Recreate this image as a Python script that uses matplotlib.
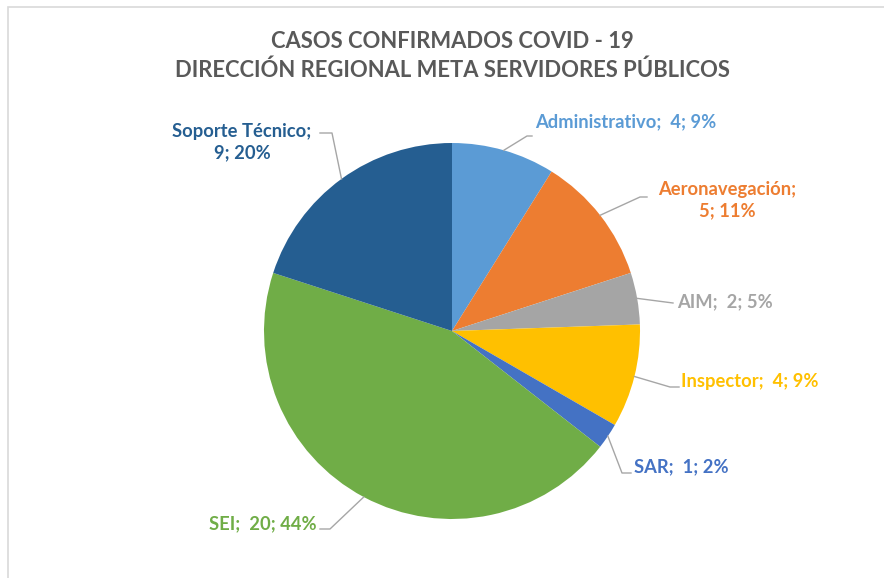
import numpy as np
import matplotlib.pyplot as plt
from matplotlib.lines import Line2D
from matplotlib.patches import Rectangle

plt.rcParams["font.family"] = ["Lato", "DejaVu Sans"]

categories = ["Administrativo", "Aeronavegación", "AIM", "Inspector", "SAR", "SEI", "Soporte Técnico"]
values = [4, 5, 2, 4, 1, 20, 9]
colors = ["#5B9BD5", "#ED7D31", "#A5A5A5", "#FFC000", "#4472C4", "#70AD47", "#255E91"]
title = "CASOS CONFIRMADOS COVID - 19\nDIRECCIÓN REGIONAL META SERVIDORES PÚBLICOS"

W, H = 884, 578
cx, cy, R = 452, 331, 188  # pie centre / radius in pixels

fig = plt.figure(figsize=(W / 100, H / 100), dpi=100)
fig.patch.set_facecolor("white")
# light frame (only top and left edges visible)
fig.add_artist(Rectangle((8 / W, -0.1), 1.2, 1.1 - 7 / H, transform=fig.transFigure,
                         fill=False, edgecolor="#D9D9D9", lw=1.2))

ax = fig.add_axes([(cx - R) / W, (H - cy - R) / H, 2 * R / W, 2 * R / H])
ax.pie(values, colors=colors, startangle=90, counterclock=False, radius=1,
       wedgeprops=dict(linewidth=0))
ax.set_xlim(-1, 1)
ax.set_ylim(-1, 1)
ax.axis("off")

total = sum(values)
# percentages rounded so they add up to 100 (largest remainder, like Excel)
raw = np.array(values) / total * 100
pcts = np.floor(raw).astype(int)
order = np.argsort(-(raw - pcts), kind="stable")
for i in order[:100 - pcts.sum()]:
    pcts[i] += 1


def px(x, y):
    return (x - cx) / R, (cy - y) / R


# label layout in pixels: (elbow points, text position, ha, multi-line)
layout = [
    ([(527, 136), (532, 136)], (535, 122), "left", False),
    ([(640, 197), (647, 197)], (727, 200), "center", True),
    ([(673, 303)], (677, 302), "left", False),
    ([(670, 387), (679, 387)], (681, 381), "left", False),
    ([(622, 473), (631, 473)], (634, 467), "left", False),
    ([(330, 529), (320, 529)], (317, 524), "right", False),
    ([(332, 133), (320, 133)], (242, 142), "center", True),
]

cum = 0
for name, v, p, c, (pts, tpos, ha, multi) in zip(categories, values, pcts, colors, layout):
    mid = 90 - (cum + v / 2) / total * 360
    cum += v
    a = np.deg2rad(mid)
    xs = [np.cos(a)] + [px(*q)[0] for q in pts]
    ys = [np.sin(a)] + [px(*q)[1] for q in pts]
    ax.add_line(Line2D(xs, ys, color="#A6A6A6", lw=1, clip_on=False))
    sep = "\n" if multi else "  "
    txt = f"{name};{sep}{v}; {p}%"
    tx, ty = px(*tpos)
    ax.text(tx, ty, txt, color=c, fontsize=13.2, fontweight="bold", ha=ha, va="center",
            linespacing=1.3, clip_on=False)

fig.text(452 / W, 1 - 56 / H, title, ha="center", va="center", fontsize=15.8,
         fontweight="bold", color="#595959", linespacing=1.42)

fig.savefig("out.png", dpi=100)
